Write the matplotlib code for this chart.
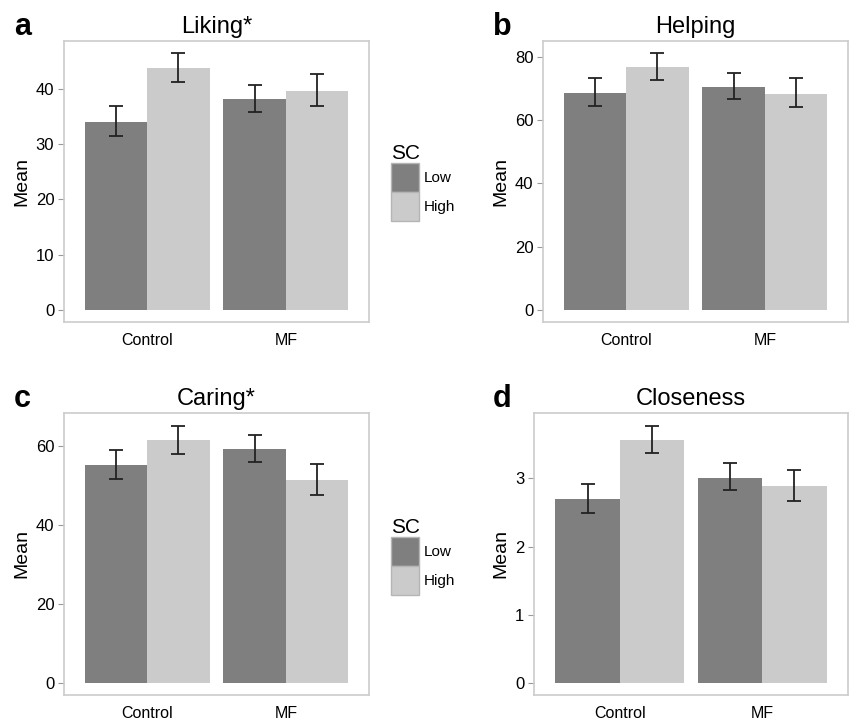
import matplotlib.pyplot as plt
from matplotlib.patches import Patch
import numpy as np

plt.rcParams['font.family'] = ['Liberation Sans', 'DejaVu Sans']

# data
groups = ['Control', 'MF']
sc_levels = ['Low', 'High']

liking_mean = [[34.0, 38.1], [43.7, 39.6]]
liking_lo = [[31.4, 35.7], [41.1, 36.8]]
liking_hi = [[36.9, 40.7], [46.4, 42.6]]

helping_mean = [[68.6, 70.5], [76.8, 68.4]]
helping_lo = [[64.5, 66.6], [72.8, 64.0]]
helping_hi = [[73.2, 74.8], [81.1, 73.4]]

caring_mean = [[55.4, 59.4], [61.7, 51.6]]
caring_lo = [[51.8, 56.1], [58.2, 47.8]]
caring_hi = [[59.1, 62.9], [65.3, 55.6]]

closeness_mean = [[2.70, 3.01], [3.56, 2.89]]
closeness_lo = [[2.49, 2.83], [3.37, 2.67]]
closeness_hi = [[2.92, 3.22], [3.77, 3.12]]

colors = ['#7f7f7f', '#cbcbcb']

W, H = 849, 722
fig = plt.figure(figsize=(W / 100, H / 100), dpi=100)


def px_axes(x0, y0, x1, y1):
    return fig.add_axes([x0 / W, 1 - y1 / H, (x1 - x0) / W, (y1 - y0) / H])


def panel(ax, title, means, lo, hi, ylim, yticks):
    x = np.arange(1, len(groups) + 1)
    bw = 0.45
    for i, lev in enumerate(sc_levels):
        xs = x + (i - 0.5) * bw
        m = np.array(means[i])
        ax.bar(xs, m, width=bw, color=colors[i], edgecolor='none', label=lev)
        err = np.vstack([m - np.array(lo[i]), np.array(hi[i]) - m])
        ax.errorbar(xs, m, yerr=err, fmt='none', ecolor='#222222',
                    elinewidth=1.3, capsize=4.7, capthick=1.3)
    ax.set_xlim(0.4, 2.6)
    ax.set_ylim(*ylim)
    ax.set_yticks(yticks)
    ax.set_xticks(x)
    ax.set_xticklabels(groups)
    ax.set_title(title, fontsize=17, pad=6)
    ax.set_ylabel('Mean', fontsize=14, labelpad=4)
    for s in ax.spines.values():
        s.set_color('#cccccc')
        s.set_linewidth(1.2)
    ax.tick_params(axis='y', length=4, color='#999999', labelsize=12, pad=3)
    ax.tick_params(axis='x', length=0, labelsize=11.5, pad=8)


ax_a = px_axes(64, 41, 369, 322)
panel(ax_a, 'Liking*', liking_mean, liking_lo, liking_hi, (-2.2, 48.6), [0, 10, 20, 30, 40])
ax_b = px_axes(543, 41, 848, 322)
panel(ax_b, 'Helping', helping_mean, helping_lo, helping_hi, (-3.8, 85), [0, 20, 40, 60, 80])
ax_c = px_axes(64, 413, 369, 695)
panel(ax_c, 'Caring*', caring_mean, caring_lo, caring_hi, (-3.1, 68.5), [0, 20, 40, 60])
ax_d = px_axes(534, 413, 848, 695)
panel(ax_d, 'Closeness', closeness_mean, closeness_lo, closeness_hi, (-0.18, 3.96), [0, 1, 2, 3])

# panel letters
for lab, (x, y) in zip('abcd', [(14, 35), (493, 35), (14, 407), (493, 407)]):
    fig.text(x / W, 1 - y / H, lab, fontsize=22, fontweight='bold')

# legends
handles = [Patch(facecolor=c, edgecolor='#b5b5b5', linewidth=1) for c in colors]
for ytop in (144, 518):
    leg = fig.legend(handles, sc_levels, title='SC', loc='upper left',
                     bbox_to_anchor=(391 / W, 1 - ytop / H), frameon=False,
                     fontsize=11, title_fontsize=15, handlelength=1.85,
                     handleheight=2.55, labelspacing=0.0, handletextpad=0.3,
                     borderpad=0, borderaxespad=0, alignment='left')

fig.savefig('out.png', dpi=100)
